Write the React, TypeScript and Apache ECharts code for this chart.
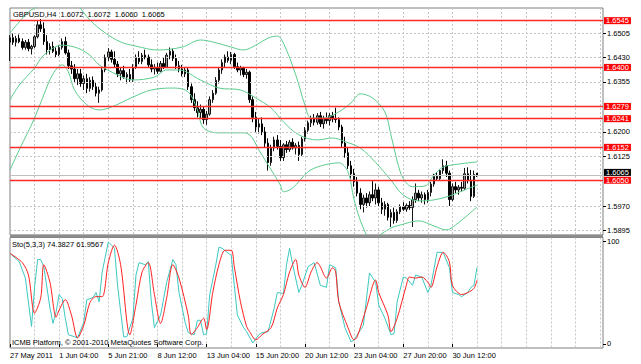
import React, { useEffect, useRef } from "react";
import * as echarts from "echarts";

// ---------- axis slots and tick labels ----------
const SLOT_COUNT = 194;
const X_TICK_STEP = 16;
const xTickLabels = [
  "27 May 2011", "1 Jun 04:00", "5 Jun 21:00", "8 Jun 12:00", "13 Jun 04:00",
  "15 Jun 20:00", "20 Jun 12:00", "23 Jun 04:00", "27 Jun 20:00", "30 Jun 12:00",
];
const priceTicks = [1.6505, 1.6430, 1.6355, 1.6200, 1.6125, 1.5970, 1.5895];
const levelLines = [1.6545, 1.6400, 1.6279, 1.6241, 1.6152, 1.6050];
const bidPrice = 1.6065;
const stochTicks = [0, 100];
const PRICE_MIN = 1.58801;
const PRICE_MAX = 1.65843;

// ---------- GBPUSD H4 OHLC ----------
const opens = [1.6478,1.6492,1.6478,1.6490,1.6480,1.6462,1.6478,1.6458,1.6465,1.6495,
1.6532,1.6520,1.6480,1.6455,1.6465,1.6450,1.6440,1.6462,1.6480,1.6445,
1.6405,1.6395,1.6365,1.6380,1.6350,1.6365,1.6335,1.6360,1.6340,1.6320,
1.6330,1.6392,1.6430,1.6448,1.6425,1.6410,1.6380,1.6390,1.6370,1.6378,
1.6362,1.6400,1.6430,1.6418,1.6438,1.6432,1.6408,1.6395,1.6400,1.6388,
1.6412,1.6400,1.6438,1.6450,1.6428,1.6405,1.6395,1.6380,1.6392,1.6340,
1.6300,1.6275,1.6260,1.6270,1.6238,1.6255,1.6300,1.6320,1.6360,1.6392,
1.6415,1.6432,1.6422,1.6440,1.6402,1.6392,1.6398,1.6378,1.6385,1.6300,
1.6245,1.6215,1.6225,1.6200,1.6165,1.6105,1.6150,1.6175,1.6155,1.6120,
1.6160,1.6145,1.6168,1.6150,1.6158,1.6130,1.6178,1.6205,1.6228,1.6240,
1.6230,1.6250,1.6225,1.6242,1.6235,1.6250,1.6240,1.6238,1.6215,1.6165,
1.6135,1.6095,1.6070,1.6045,1.6010,1.5975,1.5995,1.5980,1.6005,1.5995,
1.6020,1.5980,1.5960,1.5975,1.5935,1.5950,1.5925,1.5952,1.5968,1.5960,
1.5972,1.5965,1.5990,1.6010,1.5995,1.6005,1.5990,1.6012,1.6038,1.6062,
1.6055,1.6080,1.6095,1.6072,1.5990,1.6030,1.6020,1.6028,1.6025,1.6070,
1.6050,1.6000,1.6072];
const closes = [1.6492,1.6478,1.6490,1.6480,1.6462,1.6478,1.6458,1.6465,1.6495,1.6532,
1.6520,1.6480,1.6455,1.6465,1.6450,1.6440,1.6462,1.6480,1.6445,1.6405,
1.6395,1.6365,1.6380,1.6350,1.6365,1.6335,1.6360,1.6340,1.6320,1.6330,
1.6392,1.6430,1.6448,1.6425,1.6410,1.6380,1.6390,1.6370,1.6378,1.6362,
1.6400,1.6430,1.6418,1.6438,1.6432,1.6408,1.6395,1.6400,1.6388,1.6412,
1.6400,1.6438,1.6450,1.6428,1.6405,1.6395,1.6380,1.6392,1.6340,1.6300,
1.6275,1.6260,1.6270,1.6238,1.6255,1.6300,1.6320,1.6360,1.6392,1.6415,
1.6432,1.6422,1.6440,1.6402,1.6392,1.6398,1.6378,1.6385,1.6300,1.6245,
1.6215,1.6225,1.6200,1.6165,1.6105,1.6150,1.6175,1.6155,1.6120,1.6160,
1.6145,1.6168,1.6150,1.6158,1.6130,1.6178,1.6205,1.6228,1.6240,1.6230,
1.6250,1.6225,1.6242,1.6235,1.6250,1.6240,1.6238,1.6215,1.6165,1.6135,
1.6095,1.6070,1.6045,1.6010,1.5975,1.5995,1.5980,1.6005,1.5995,1.6020,
1.5980,1.5960,1.5975,1.5935,1.5950,1.5925,1.5952,1.5968,1.5960,1.5972,
1.5965,1.5990,1.6010,1.5995,1.6005,1.5990,1.6012,1.6038,1.6062,1.6055,
1.6080,1.6095,1.6072,1.5990,1.6030,1.6020,1.6028,1.6025,1.6070,1.6050,
1.6000,1.6068,1.6065];
const highs = [1.6500,1.6505,1.6498,1.6502,1.6490,1.6485,1.6488,1.6470,1.6500,1.6545,
1.6550,1.6540,1.6500,1.6475,1.6480,1.6462,1.6470,1.6490,1.6495,1.6455,
1.6420,1.6410,1.6395,1.6395,1.6375,1.6380,1.6370,1.6372,1.6355,1.6340,
1.6400,1.6440,1.6460,1.6455,1.6450,1.6420,1.6400,1.6405,1.6385,1.6395,
1.6410,1.6440,1.6450,1.6445,1.6455,1.6440,1.6425,1.6410,1.6415,1.6420,
1.6430,1.6445,1.6462,1.6458,1.6440,1.6420,1.6408,1.6400,1.6398,1.6350,
1.6320,1.6295,1.6285,1.6280,1.6265,1.6310,1.6330,1.6370,1.6400,1.6425,
1.6440,1.6450,1.6448,1.6445,1.6415,1.6405,1.6402,1.6395,1.6390,1.6310,
1.6262,1.6240,1.6245,1.6215,1.6180,1.6160,1.6185,1.6190,1.6175,1.6165,
1.6172,1.6175,1.6180,1.6165,1.6170,1.6185,1.6215,1.6235,1.6250,1.6255,
1.6258,1.6262,1.6250,1.6260,1.6258,1.6262,1.6275,1.6245,1.6222,1.6185,
1.6150,1.6110,1.6085,1.6060,1.6025,1.6005,1.6010,1.6015,1.6050,1.6040,
1.6030,1.5995,1.5985,1.5980,1.5960,1.5965,1.5960,1.5975,1.5982,1.5978,
1.5985,1.6000,1.6040,1.6020,1.6015,1.6012,1.6020,1.6045,1.6070,1.6075,
1.6085,1.6115,1.6110,1.6080,1.6040,1.6045,1.6035,1.6045,1.6088,1.6090,
1.6082,1.6080,1.6072];
const lows = [1.6420,1.6470,1.6465,1.6475,1.6455,1.6455,1.6450,1.6440,1.6460,1.6490,
1.6510,1.6470,1.6440,1.6440,1.6445,1.6432,1.6435,1.6455,1.6440,1.6395,
1.6380,1.6355,1.6345,1.6340,1.6330,1.6320,1.6325,1.6330,1.6310,1.6290,
1.6325,1.6385,1.6420,1.6415,1.6400,1.6370,1.6360,1.6365,1.6350,1.6355,
1.6355,1.6395,1.6410,1.6410,1.6425,1.6400,1.6385,1.6378,1.6380,1.6385,
1.6395,1.6398,1.6425,1.6420,1.6395,1.6385,1.6372,1.6370,1.6330,1.6290,
1.6265,1.6245,1.6240,1.6225,1.6222,1.6250,1.6290,1.6315,1.6350,1.6380,
1.6400,1.6415,1.6410,1.6395,1.6385,1.6375,1.6370,1.6365,1.6290,1.6230,
1.6200,1.6195,1.6190,1.6150,1.6080,1.6095,1.6140,1.6145,1.6110,1.6110,
1.6135,1.6138,1.6145,1.6130,1.6110,1.6125,1.6170,1.6195,1.6215,1.6220,
1.6222,1.6215,1.6210,1.6225,1.6220,1.6230,1.6228,1.6205,1.6150,1.6120,
1.6085,1.6055,1.6030,1.6000,1.5960,1.5950,1.5965,1.5970,1.5985,1.5975,
1.5970,1.5945,1.5940,1.5925,1.5905,1.5915,1.5918,1.5945,1.5955,1.5952,
1.5958,1.5905,1.5980,1.5985,1.5980,1.5975,1.5980,1.6000,1.6030,1.6048,
1.6050,1.6070,1.6060,1.5970,1.5985,1.6010,1.6005,1.6015,1.6020,1.6040,
1.5985,1.5995,1.6060];

// ---------- Bollinger bands: [bar, price] ----------
const bbUpper = [[0,1.6507],[3,1.6541],[6,1.6572],[10,1.6594],[13,1.6609],[16,1.6618],[20,1.6609],
[22,1.6594],[26,1.6547],[31,1.6507],[36,1.6479],[41,1.6466],[48,1.6454],[56,1.6463],[62,1.6485],
[66,1.6479],[72,1.6463],[76,1.6454],[80,1.6469],[84,1.6491],[87,1.6497],[89,1.6475],[93,1.6377],
[96,1.6283],[98,1.6243],[102,1.6243],[107,1.6262],[111,1.6290],[114,1.6318],[118,1.6305],
[122,1.6262],[124,1.6190],[126,1.6110],[128,1.6055],[131,1.6030],[135,1.6032],[138,1.6066],
[141,1.6091],[146,1.6100],[152,1.6107]];
const bbMiddle = [[0,1.6299],[3,1.6345],[8,1.6398],[11,1.6438],[17,1.6469],[22,1.6460],[26,1.6438],
[29,1.6408],[35,1.6377],[40,1.6361],[47,1.6370],[51,1.6392],[55,1.6392],[62,1.6361],[68,1.6336],
[75,1.6330],[80,1.6305],[85,1.6274],[89,1.6231],[94,1.6191],[100,1.6175],[105,1.6181],[109,1.6170],
[114,1.6150],[119,1.6105],[124,1.6050],[128,1.6004],[133,1.5986],[138,1.5989],[143,1.6001],
[148,1.6020],[152,1.6035]];
const bbLower = [[0,1.6082],[3,1.6144],[8,1.6243],[11,1.6315],[14,1.6380],[17,1.6408],[19,1.6386],
[21,1.6330],[25,1.6284],[29,1.6268],[33,1.6277],[40,1.6308],[46,1.6330],[53,1.6336],[58,1.6324],
[61,1.6268],[63,1.6212],[68,1.6197],[75,1.6197],[78,1.6191],[81,1.6144],[85,1.6082],[88,1.6035],
[89,1.6014],[92,1.6026],[97,1.6076],[101,1.6094],[107,1.6104],[110,1.6076],[112,1.5989],
[115,1.5902],[118,1.5859],[120,1.5877],[124,1.5902],[127,1.5911],[133,1.5924],[138,1.5908],
[142,1.5896],[145,1.5911],[152,1.5967]];

// ---------- Stochastic (5,3,3): [bar, value] ----------
const stochK = [[0,88],[3,80],[5,64],[7,17],[8,55],[9,82],[10,82],[11,75],[13,35],[14,20],[15,31],
[16,48],[17,44],[18,25],[19,9],[21,7],[22,6],[24,21],[25,43],[27,45],[28,50],[29,41],[30,70],
[32,99],[34,93],[35,57],[37,7],[38,7],[40,25],[41,67],[42,79],[44,77],[45,80],[46,41],[47,16],
[49,28],[51,60],[53,82],[54,77],[55,50],[57,21],[58,11],[60,9],[61,23],[62,23],[63,9],[64,10],
[65,48],[67,77],[68,94],[69,93],[72,86],[73,57],[74,28],[76,16],[77,12],[79,1],[81,9],[82,11],
[84,12],[86,35],[87,50],[89,49],[90,77],[91,93],[92,77],[94,50],[95,57],[97,75],[99,79],[101,57],
[103,55],[104,77],[106,74],[107,41],[109,16],[111,2],[112,4],[115,18],[117,69],[119,60],[120,38],
[122,25],[124,9],[125,10],[126,41],[128,65],[129,64],[131,57],[132,67],[134,65],[136,50],[137,57],
[139,89],[141,89],[143,74],[144,50],[146,48],[147,46],[149,50],[150,55],[151,57],[152,74.3827]];
const stochD = [[0,88],[4,79],[6,67],[8,30],[10,45],[11,77],[13,60],[15,26],[16,33],[18,43],[20,28],
[22,6],[24,18],[26,40],[28,46],[30,46],[32,79],[34,96],[36,77],[39,9],[41,38],[43,70],[45,79],
[47,48],[49,20],[51,45],[53,77],[55,64],[58,28],[59,9],[61,16],[63,25],[64,14],[66,50],[68,77],
[70,91],[72,91],[73,75],[75,41],[77,17],[78,12],[80,4],[82,9],[85,16],[87,35],[89,48],[91,70],
[93,82],[94,67],[96,55],[98,70],[100,79],[101,75],[103,64],[105,74],[106,70],[107,41],[110,16],
[112,4],[113,7],[116,35],[119,62],[120,50],[123,28],[124,12],[126,25],[129,57],[130,65],[132,64],
[134,65],[136,60],[137,55],[139,75],[141,89],[143,80],[144,57],[147,48],[149,50],[151,54],[152,61.9567]];

const FONT = "Liberation Sans";
const FS = 7.5;

export default function App() {
  const ref = useRef<HTMLDivElement>(null);

  useEffect(() => {
    if (!ref.current) return;
    const chart = echarts.init(ref.current, null, { renderer: "svg" });
    const slots = Array.from({ length: SLOT_COUNT }, (_, i) => String(i));
    const gridEvery8 = (i: number) => i % 8 === 0 && i > 0;
    const labelAt = (i: number) => i % X_TICK_STEP === 0 && i / X_TICK_STEP < xTickLabels.length;
    const candles = opens.map((o, i) => [o, closes[i], lows[i], highs[i]]);
    // invisible carrier series so that the markLines map through the price axis
    const carrier = (name: string, z: number, markLine: any) => ({
      name, type: "line", xAxisIndex: 0, yAxisIndex: 0, data: closes, z, silent: true,
      symbol: "none", lineStyle: { width: 0, color: "transparent" }, markLine: { precision: 5, ...markLine },
    });
    const baseLabel = { show: true, position: "end", formatter: "{b}", fontSize: FS, fontFamily: FONT };

    const option: any = {
      animation: false,
      backgroundColor: "#ffffff",
      textStyle: { fontFamily: FONT },
      grid: [
        { left: 10, top: 8, width: 593, height: 227, show: true, borderColor: "#808080", borderWidth: 1, backgroundColor: "#fff" },
        { left: 10, top: 237.5, width: 593, height: 110.5, show: true, borderColor: "#808080", borderWidth: 1, backgroundColor: "#fff" },
      ],
      xAxis: [
        {
          gridIndex: 0, type: "category", data: slots, boundaryGap: false,
          axisLine: { show: false }, axisTick: { show: false, interval: gridEvery8 }, axisLabel: { show: false, interval: gridEvery8 },
          splitLine: { show: true, interval: gridEvery8, lineStyle: { color: "#c6c6c6", type: [2, 2], width: 1 } },
        },
        {
          gridIndex: 1, type: "category", data: slots, boundaryGap: false,
          axisLine: { show: false },
          axisTick: { show: true, interval: labelAt, length: 3, lineStyle: { color: "#000" } },
          axisLabel: {
            show: true, interval: labelAt, align: "left", margin: 3, color: "#000", fontSize: FS, fontFamily: FONT,
            formatter: (v: string) => xTickLabels[Number(v) / X_TICK_STEP] ?? "",
          },
          splitLine: { show: true, interval: gridEvery8, lineStyle: { color: "#c6c6c6", type: [2, 2], width: 1 } },
        },
      ],
      yAxis: [
        {
          gridIndex: 0, type: "value", min: PRICE_MIN, max: PRICE_MAX, position: "right",
          axisLine: { show: false }, axisLabel: { show: false }, splitLine: { show: false },
          axisTick: { show: true, length: 3, lineStyle: { color: "#000" }, customValues: priceTicks },
        },
        {
          gridIndex: 1, type: "value", min: -3.9, max: 103.4, position: "right",
          axisLine: { show: false }, axisLabel: { show: false }, splitLine: { show: false },
          axisTick: { show: true, length: 3, lineStyle: { color: "#000" }, customValues: stochTicks },
        },
      ],
      graphic: [
        { type: "rect", shape: { x: 10, y: 234.8, width: 593, height: 2.8 }, style: { fill: "#8c8c8c" }, z: 10 },
        { type: "text", x: 13, y: 14.5, style: { text: "GBPUSD,H4  1.6072  1.6072  1.6060  1.6065", fill: "#000", font: `${FS}px '${FONT}'`, textVerticalAlign: "middle" }, z: 20 },
        { type: "text", x: 12, y: 244, style: { text: "Sto(5,3,3) 74.3827 61.9567", fill: "#000", font: `${FS}px '${FONT}'`, textVerticalAlign: "middle" }, z: 20 },
        { type: "text", x: 12, y: 342, style: { text: "ICMB Platform, © 2001-2010 MetaQuotes Software Corp.", fill: "#000", font: `${FS}px '${FONT}'`, textVerticalAlign: "middle" }, z: 20 },
      ],
      series: [
        carrier("priceGrid", 1, {
          silent: true, symbol: ["none", "none"], animation: false,
          lineStyle: { color: "#c6c6c6", type: [2, 2], width: 1 },
          label: { ...baseLabel, color: "#000", distance: 4 },
          data: priceTicks.map((p) => ({ yAxis: p, name: p.toFixed(4) })),
        }),
        {
          name: "GBPUSD", type: "candlestick", xAxisIndex: 0, yAxisIndex: 0, data: candles, barWidth: 2, z: 3,
          itemStyle: { color: "#989898", color0: "#000000", borderColor: "#141414", borderColor0: "#000000", borderWidth: 1 },
        },
        ...[bbUpper, bbMiddle, bbLower].map((d) => ({
          type: "line", xAxisIndex: 0, yAxisIndex: 0, data: d, symbol: "none", smooth: 0.35, z: 4,
          lineStyle: { color: "#5ccc8e", width: 1 }, clip: true,
        })),
        carrier("bid", 5, {
          silent: true, symbol: ["none", "none"], animation: false,
          lineStyle: { color: "#c0c0c0", type: "solid", width: 1 },
          label: { ...baseLabel, color: "#fff", backgroundColor: "#000", padding: [0, 2, 0, 2], lineHeight: 7, distance: 1, offset: [0, -3] },
          data: [{ yAxis: bidPrice, name: bidPrice.toFixed(4) }],
        }),
        carrier("levels", 6, {
          silent: true, symbol: ["none", "none"], animation: false,
          lineStyle: { color: "#ff2a2a", type: "solid", width: 1.3 },
          label: { ...baseLabel, color: "#fff", backgroundColor: "#ff0000", padding: [0, 2, 0, 2], lineHeight: 7, distance: 1 },
          data: levelLines.map((p) => ({ yAxis: p, name: p.toFixed(4) })),
        }),
        {
          name: "%K", type: "line", xAxisIndex: 1, yAxisIndex: 1, data: stochK, symbol: "none", z: 4,
          lineStyle: { color: "#3cc8c0", width: 1 },
          markLine: {
            silent: true, symbol: ["none", "none"], animation: false,
            lineStyle: { color: "transparent", width: 0 },
            label: { ...baseLabel, color: "#000", distance: 4 },
            data: stochTicks.map((v) => ({ yAxis: v, name: String(v) })),
          },
        },
        {
          name: "%D", type: "line", xAxisIndex: 1, yAxisIndex: 1, data: stochD, symbol: "none", smooth: 0.3, z: 5,
          lineStyle: { color: "#ff2020", width: 1 },
        },
      ],
    };
    chart.setOption(option);
    return () => chart.dispose();
  }, []);

  return <div ref={ref} style={{ position: "fixed", left: 0, top: 0, width: 641, height: 364, background: "#fff" }} />;
}
